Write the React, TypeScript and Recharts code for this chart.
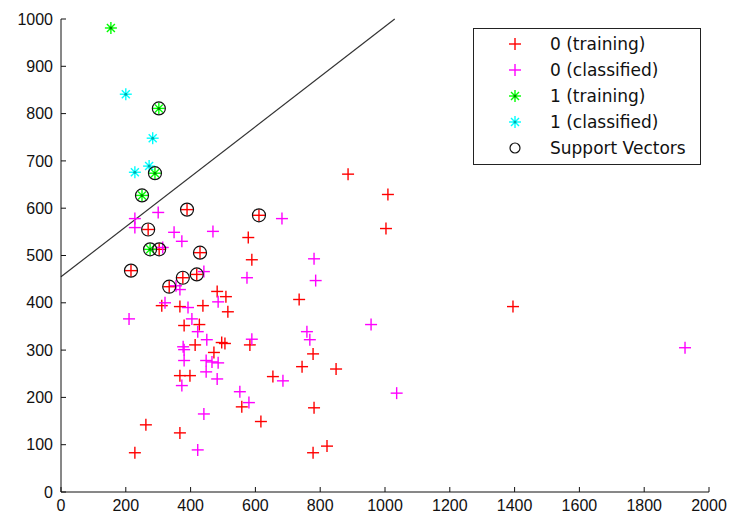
import React from 'react';
import { ScatterChart, Scatter, XAxis, YAxis, ReferenceLine, Legend } from 'recharts';

const xTicks = [0, 200, 400, 600, 800, 1000, 1200, 1400, 1600, 1800, 2000];
const yTicks = [0, 100, 200, 300, 400, 500, 600, 700, 800, 900, 1000];

const legendLabels = ['0 (training)', '0 (classified)', '1 (training)', '1 (classified)', 'Support Vectors'];

const class0Training: [number, number][] = [
  [389, 597], [611, 585], [269, 555], [303, 513], [429, 506], [216, 468], [419, 460], [376, 453], [334, 434],
  [886, 672], [1009, 629], [1003, 557], [578, 538], [589, 491], [735, 407], [1395, 392], [482, 424], [509, 413],
  [311, 394], [367, 392], [438, 394], [515, 381], [380, 352], [427, 354], [414, 311], [496, 316], [506, 314],
  [583, 311], [472, 295], [367, 246], [398, 246], [654, 244], [558, 180], [617, 149], [262, 142], [367, 125],
  [228, 83], [778, 292], [744, 265], [849, 260], [781, 178], [821, 97], [778, 83],
];

const class0Classified: [number, number][] = [
  [300, 591], [228, 578], [228, 559], [682, 578], [349, 549], [469, 551], [373, 530], [314, 517], [441, 466],
  [574, 453], [355, 436], [367, 428], [321, 400], [392, 390], [210, 366], [404, 366], [422, 339], [450, 322],
  [589, 323], [485, 402], [377, 307], [781, 493], [786, 447], [957, 354], [759, 339], [768, 322], [380, 301],
  [380, 278], [448, 278], [466, 275], [485, 273], [448, 254], [482, 239], [373, 225], [685, 235], [552, 212],
  [580, 189], [441, 165], [422, 89], [1036, 209], [1926, 305],
];

const class1Training: [number, number][] = [
  [154, 981], [302, 811], [290, 674], [250, 627], [275, 513],
];

const class1Classified: [number, number][] = [
  [200, 841], [283, 748], [272, 689], [228, 676],
];

const supportVectors: [number, number][] = [
  [302, 811], [290, 674], [250, 627], [275, 513],
  [389, 597], [611, 585], [269, 555], [303, 513], [429, 506], [216, 468], [419, 460], [376, 453], [334, 434],
];

const boundaryLine: [number, number][] = [[0, 455], [1030, 1000]];

const toPts = (arr: [number, number][]) => arr.map(([x, y]) => ({ x, y }));

const RED = '#ff0000';
const MAGENTA = '#ff00ff';
const GREEN = '#00ff00';
const CYAN = '#00ffff';

const plusShape = (color: string) => (props: any) => {
  const { cx, cy } = props;
  if (cx == null || cy == null) return <g />;
  return (
    <g>
      <line x1={cx - 6} x2={cx + 6} y1={cy} y2={cy} stroke={color} strokeWidth={1.4} />
      <line x1={cx} x2={cx} y1={cy - 6} y2={cy + 6} stroke={color} strokeWidth={1.4} />
    </g>
  );
};

const starShape = (color: string, dot: string) => (props: any) => {
  const { cx, cy } = props;
  if (cx == null || cy == null) return <g />;
  return (
    <g>
      <line x1={cx - 6} x2={cx + 6} y1={cy} y2={cy} stroke={color} strokeWidth={1.4} />
      <line x1={cx} x2={cx} y1={cy - 6} y2={cy + 6} stroke={color} strokeWidth={1.4} />
      <line x1={cx - 4} x2={cx + 4} y1={cy - 4} y2={cy + 4} stroke={color} strokeWidth={1.4} />
      <line x1={cx - 4} x2={cx + 4} y1={cy + 4} y2={cy - 4} stroke={color} strokeWidth={1.4} />
      <circle cx={cx} cy={cy} r={1.5} fill={dot} />
    </g>
  );
};

const circleShape = (props: any) => {
  const { cx, cy } = props;
  if (cx == null || cy == null) return <g />;
  return <circle cx={cx} cy={cy} r={6.5} fill="none" stroke="#111" strokeWidth={1.2} />;
};

const legendMarkers = [
  (cx: number, cy: number) => plusShape(RED)({ cx, cy }),
  (cx: number, cy: number) => plusShape(MAGENTA)({ cx, cy }),
  (cx: number, cy: number) => starShape(GREEN, '#008800')({ cx, cy }),
  (cx: number, cy: number) => starShape(CYAN, '#00aaaa')({ cx, cy }),
  (cx: number, cy: number) => <circle cx={cx} cy={cy} r={5} fill="none" stroke="#111" strokeWidth={1.2} />,
];

const LegendBox = () => (
  <svg width={228} height={137} style={{ display: 'block' }}>
    <rect x={0.5} y={0.5} width={227} height={136} fill="#fff" stroke="#222" strokeWidth={1} />
    {legendLabels.map((label, i) => {
      const cy = 16 + i * 26;
      return (
        <g key={label}>
          {legendMarkers[i](42, cy)}
          <text
            x={77}
            y={cy}
            dominantBaseline="central"
            fontFamily="'DejaVu Sans', sans-serif"
            fontSize={17}
            fill="#111"
          >
            {label}
          </text>
        </g>
      );
    })}
  </svg>
);

const tickStyle = { fontSize: 16, fontFamily: "'Liberation Sans', Arial, sans-serif", fill: '#111' };

export default function App() {
  return (
    <div style={{ position: 'absolute', left: 0, top: 0, width: 730, height: 517, background: '#fff' }}>
      <ScatterChart width={730} height={517} margin={{ top: 19, right: 21, bottom: 0, left: 1 }}>
        <XAxis
          xAxisId="b"
          type="number"
          dataKey="x"
          orientation="bottom"
          domain={[0, 2000]}
          ticks={xTicks}
          interval={0}
          allowDataOverflow
          height={25}
          tickSize={-5}
          tickMargin={13}
          axisLine={{ stroke: '#111' }}
          tickLine={{ stroke: '#111' }}
          tick={tickStyle}
        />
        <XAxis
          xAxisId="t"
          type="number"
          dataKey="x"
          orientation="top"
          domain={[0, 2000]}
          ticks={xTicks}
          interval={0}
          allowDataOverflow
          height={0}
          tickSize={-5}
          axisLine={{ stroke: '#111' }}
          tickLine={{ stroke: '#111' }}
          tick={false}
        />
        <YAxis
          yAxisId="l"
          type="number"
          dataKey="y"
          orientation="left"
          domain={[0, 1000]}
          ticks={yTicks}
          interval={0}
          allowDataOverflow
          width={60}
          tickSize={-5}
          tickMargin={13}
          axisLine={{ stroke: '#111' }}
          tickLine={{ stroke: '#111' }}
          tick={tickStyle}
        />
        <YAxis
          yAxisId="r"
          type="number"
          dataKey="y"
          orientation="right"
          domain={[0, 1000]}
          ticks={yTicks}
          interval={0}
          allowDataOverflow
          width={0}
          tickSize={-5}
          axisLine={{ stroke: '#111' }}
          tickLine={{ stroke: '#111' }}
          tick={false}
        />
        <ReferenceLine
          xAxisId="b"
          yAxisId="l"
          segment={toPts(boundaryLine)}
          stroke="#333"
          strokeWidth={1.2}
          ifOverflow="visible"
        />
        <Scatter xAxisId="b" yAxisId="l" name="0 (training)" data={toPts(class0Training)} shape={plusShape(RED)} isAnimationActive={false} />
        <Scatter xAxisId="b" yAxisId="l" name="0 (classified)" data={toPts(class0Classified)} shape={plusShape(MAGENTA)} isAnimationActive={false} />
        <Scatter xAxisId="b" yAxisId="l" name="1 (training)" data={toPts(class1Training)} shape={starShape(GREEN, '#008800')} isAnimationActive={false} />
        <Scatter xAxisId="b" yAxisId="l" name="1 (classified)" data={toPts(class1Classified)} shape={starShape(CYAN, '#00aaaa')} isAnimationActive={false} />
        <Scatter xAxisId="b" yAxisId="l" name="Support Vectors" data={toPts(supportVectors)} shape={circleShape} isAnimationActive={false} />
        <Legend
          layout="vertical"
          align="center"
          verticalAlign="middle"
          content={() => <LegendBox />}
          wrapperStyle={{ position: 'absolute', left: 473, top: 28, width: 228, height: 137 }}
        />
      </ScatterChart>
    </div>
  );
}
